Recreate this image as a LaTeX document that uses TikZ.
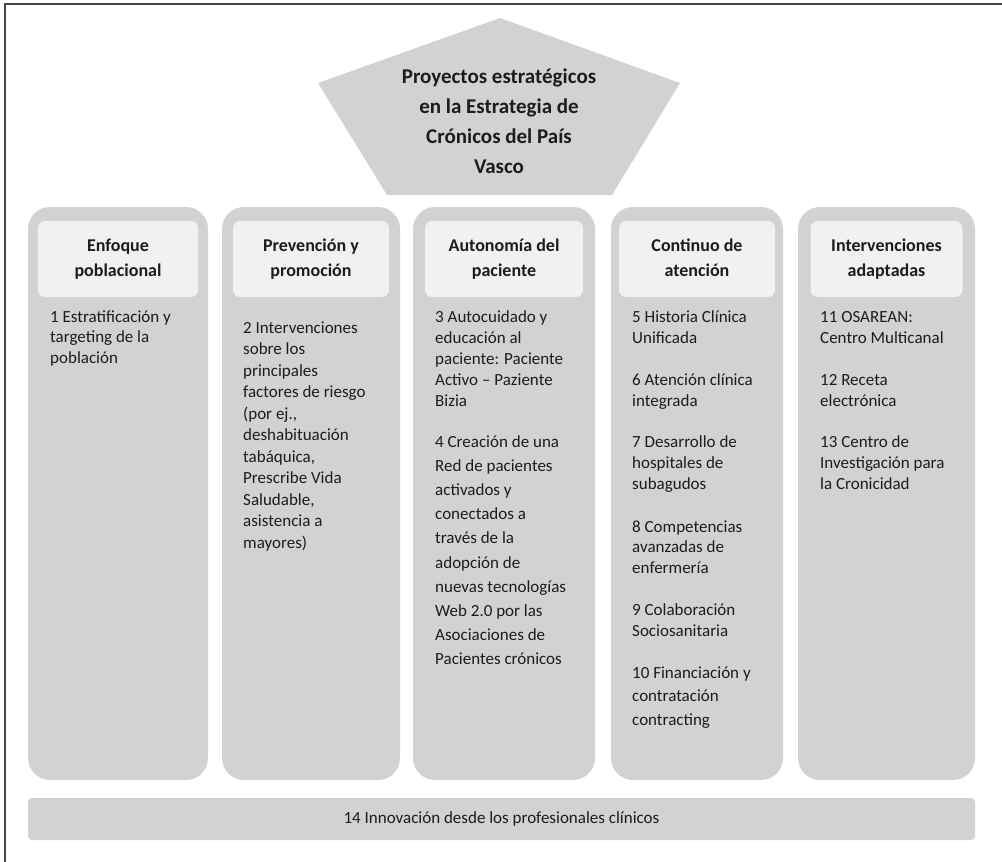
\documentclass[tikz,border=0pt]{standalone}
\usepackage{fontspec}
\setmainfont{Carlito}
\usetikzlibrary{positioning}

\definecolor{pillargray}{RGB}{210,210,210}
\definecolor{headgray}{RGB}{241,241,241}
\definecolor{ink}{RGB}{28,28,28}
\definecolor{framegray}{RGB}{70,70,70}

\newcommand{\txtbody}{\fontsize{17}{20}\selectfont}
\newcommand{\txthead}{\fontsize{18}{25}\selectfont\bfseries}
\newcommand{\txtroof}{\fontsize{21}{30}\selectfont\bfseries}

\begin{document}
\begin{tikzpicture}[x=1pt,y=-1pt]
            \tikzstyle{pillar}=[fill=pillargray,rounded corners=22pt,minimum height=573pt,inner sep=0pt]
            \tikzstyle{head}=[fill=headgray,rounded corners=7pt,minimum height=76pt,inner sep=0pt,align=center,font=\txthead,text=ink,execute at end node=\vphantom{p}]
            \tikzstyle{line}=[anchor=base west,inner sep=0pt,font=\txtbody,text=ink]
            \tikzstyle{basebar}=[fill=pillargray,rounded corners=4pt,inner sep=0pt,font=\txtbody,text=ink]
            \tikzstyle{roof}=[align=center,inner sep=0pt,font=\txtroof,text=ink]

            \useasboundingbox (0,0) rectangle (1002,862);
            \draw[framegray,line width=2pt] (5,862) -- (5,4) -- (1002,4);

            % pentagon on top
            \fill[pillargray] (500,18) -- (680,83) -- (612,195) -- (387,195) -- (318,83) -- cycle;
            \node[roof] (roof) at (499,121) {Proyectos estratégicos\\en la Estrategia de\\Crónicos del País\\Vasco};

            % the five pillars and their headings
            \foreach \n/\xa/\xb in {1/28/208, 2/222/400, 3/413/595, 4/611/783, 5/798/975}
              \node[pillar,minimum width={(\xb-\xa)*1pt}] (col\n) at ({(\xa+\xb)/2},493.5) {};

            \foreach \n/\w/\name in {1/160/{Enfoque\\poblacional}, 2/156/{Prevención y\\promoción},
                3/158/{Autonomía del\\paciente}, 4/156/{Continuo de\\atención}, 5/152/{Intervenciones\\adaptadas}}
              \node[head,minimum width=\w pt,below=14pt of col\n.north] (head\n) {\name};

            % projects, one line at a time
            \foreach \p/\x/\y/\s/\lines in {
                1/50/322/20.7/{1 Estratificación y,targeting de la,población},
                2/243/333/21.5/{2 Intervenciones,sobre los,principales,factores de riesgo,{(por ej.,},deshabituación,{tabáquica,},Prescribe Vida,{Saludable,},asistencia a,mayores)},
                3/435/322/21/{3 Autocuidado y,educación al,paciente: Paciente,Activo – Paziente,Bizia},
                4/435/447/24.2/{4 Creación de una,Red de pacientes,activados y,conectados a,través de la,adopción de,nuevas tecnologías,Web 2.0 por las,Asociaciones de,Pacientes crónicos},
                5/632/322/21/{5 Historia Clínica,Unificada},
                6/632/385/21/{6 Atención clínica,integrada},
                7/632/447/21/{7 Desarrollo de,hospitales de,subagudos},
                8/632/532/20.7/{8 Competencias,avanzadas de,enfermería},
                9/632/615/21/{9 Colaboración,Sociosanitaria},
                10/632/678/23.5/{10 Financiación y,contratación,contracting},
                11/820/322/21/{11 OSAREAN:,Centro Multicanal},
                12/820/385/21/{12 Receta,electrónica},
                13/820/447/21/{13 Centro de,Investigación para,la Cronicidad}}
              \foreach \t [count=\i from 0] in \lines
                \node[line] (p\p-\i) at (\x,\y+\s*\i) {\t};

            \node[basebar,minimum width=947pt,minimum height=42pt] (bar) at (501.5,819) {14 Innovación desde los profesionales clínicos};
        \end{tikzpicture}
\end{document}
